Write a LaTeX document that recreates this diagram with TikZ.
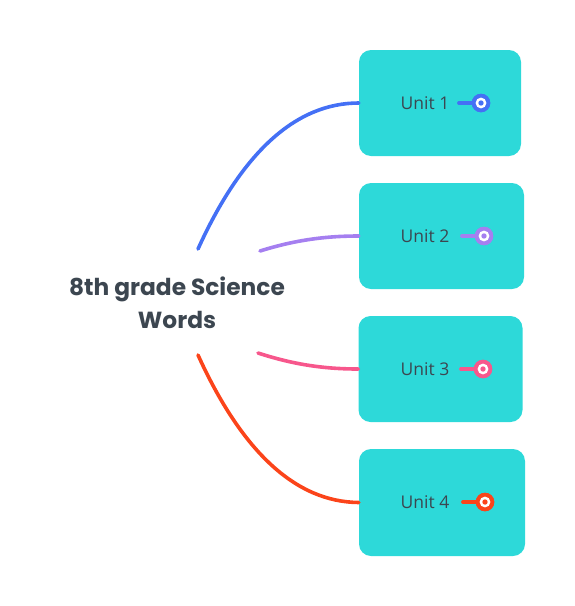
\documentclass[tikz,border=0pt]{standalone}
\usepackage{fontspec}
\setmainfont{Open Sans}
\newfontfamily\titlefont{Poppins}
\definecolor{boxfill}{HTML}{2DD9D9}
\definecolor{txt}{HTML}{3C4650}
\definecolor{cblue}{HTML}{4470F5}
\definecolor{cpurple}{HTML}{A57FF0}
\definecolor{cpink}{HTML}{F7578C}
\definecolor{cred}{HTML}{FB441A}
\begin{document}
\begin{tikzpicture}[x=1pt,y=-1pt,
  unitbox/.style={fill=boxfill,draw=none,rounded corners=12pt,inner sep=0pt},
  unitlabel/.style={anchor=west,inner sep=0pt,text=txt,font=\fontsize{17.5}{20}\selectfont},
  branch/.style={line width=3.6pt,line cap=round},
  tail/.style={line width=3.8pt,line cap=round},
  knob/.style={circle,inner sep=0pt,minimum size=18.5pt,fill=#1},
]
\useasboundingbox (0,0) rectangle (575,606);
% boxes
\node[unitbox,minimum width=162pt,minimum height=106pt] (b1) at (440,103) {};
\node[unitbox,minimum width=165pt,minimum height=106pt] (b2) at (441.5,236) {};
\node[unitbox,minimum width=164pt,minimum height=106pt] (b3) at (440.5,369) {};
\node[unitbox,minimum width=166pt,minimum height=107pt] (b4) at (442,502.5) {};
% labels
\node[unitlabel] (t1) at (400.5,103) {Unit 1};
\node[unitlabel] (t2) at (400.5,236) {Unit 2};
\node[unitlabel] (t3) at (400.5,369) {Unit 3};
\node[unitlabel] (t4) at (400.5,502) {Unit 4};
% title
\node[align=center,text=txt,inner sep=0pt,font=\titlefont\bfseries\fontsize{23.3}{33}\selectfont] (title) at (177,303) {8th grade Science\\Words};
% knobs
\foreach \i/\c/\x/\y/\s in {1/cblue/481/103/459, 2/cpurple/484/236/462, 3/cpink/483/369/461, 4/cred/485/502/463}{
  \node[knob=\c] (k\i) at (\x,\y) {};
  \coordinate (s\i) at (\s,\y);
  \draw[tail,\c] (s\i) -- (k\i.center);
  \node[knob=\c] at (k\i) {};
  \fill[white] (k\i.center) circle (5.4pt);
  \fill[\c] (k\i.center) circle (2.7pt);
}
% branch ends
\coordinate (e1) at (198,249);
\coordinate (e2) at (260,251);
\coordinate (e3) at (258,353);
\coordinate (e4) at (198,355);
\draw[branch,cblue] (e1) .. controls (242,152) and (296,103) .. (b1.west);
\draw[branch,cpurple] (e2) .. controls (292,241) and (322,236) .. (b2.west);
\draw[branch,cpink] (e3) .. controls (292,364) and (322,369) .. (b3.west);
\draw[branch,cred] (e4) .. controls (242,452) and (296,502) .. (b4.west);
\end{tikzpicture}
\end{document}
